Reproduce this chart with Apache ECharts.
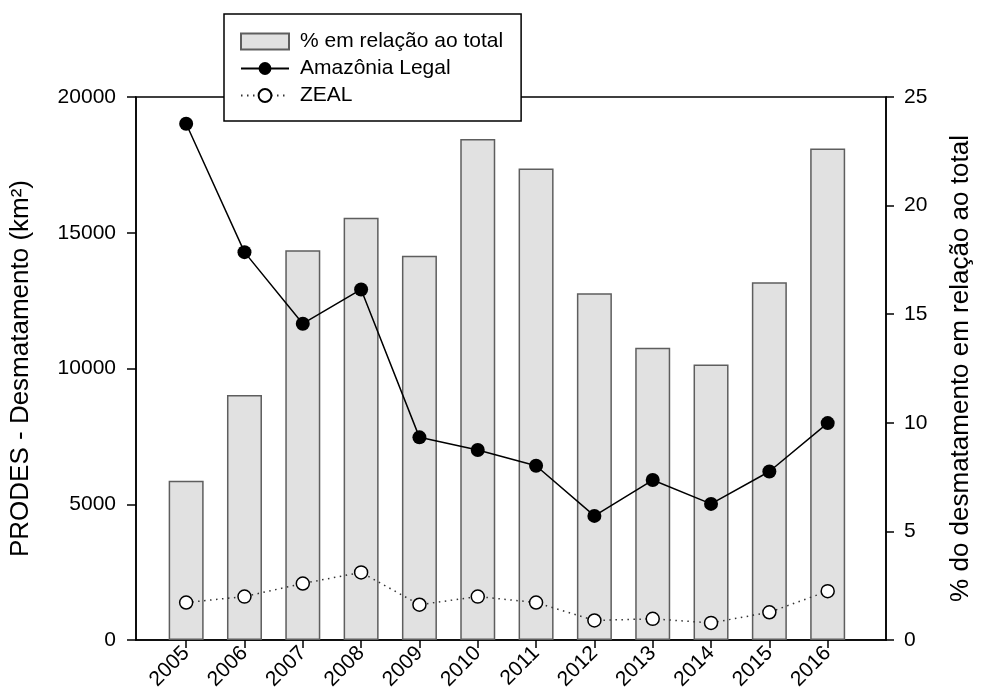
<!DOCTYPE html>
<html><head><meta charset="utf-8">
<script src="https://cdn.jsdelivr.net/npm/echarts@6/dist/echarts.min.js"></script>
<style>html,body{margin:0;padding:0;background:#fff}#c{width:982px;height:700px}</style>
</head><body><div id="c"></div>
<script>
// ---- data ----
const years = [2005, 2006, 2007, 2008, 2009, 2010, 2011, 2012, 2013, 2014, 2015, 2016];
const amazoniaLegal = [19014, 14286, 11651, 12911, 7464, 7000, 6418, 4571, 5891, 5012, 6207, 7989];
const zeal = [1380, 1600, 2080, 2490, 1300, 1600, 1380, 720, 780, 630, 1020, 1800];
const pctTotal = [7.33, 11.28, 17.95, 19.44, 17.69, 23.07, 21.71, 15.96, 13.46, 12.68, 16.47, 22.63];
const leftTickLabels = [0, 5000, 10000, 15000, 20000];
const rightTickLabels = [0, 5, 10, 15, 20, 25];
const seriesNames = ['% em relação ao total', 'Amazônia Legal', 'ZEAL'];
const leftTitle = 'PRODES - Desmatamento (km²)';
const rightTitle = '% do desmatamento em relação ao total';

const FONT = '"Liberation Sans", Arial, sans-serif';
const pairs = (vals) => years.map((y, i) => [y, vals[i]]);

const chart = echarts.init(document.getElementById('c'), null, {renderer: 'canvas'});
chart.setOption({
  animation: false,
  backgroundColor: '#fff',
  textStyle: {fontFamily: FONT, color: '#000'},
  grid: {left: 135, right: 91, top: 97, bottom: 60, show: true, borderColor: '#000', borderWidth: 1.5, backgroundColor: 'transparent'},
  legend: {
    orient: 'vertical', left: 224, top: 14,
    backgroundColor: '#fff', borderColor: '#000', borderWidth: 1.5,
    padding: [17, 18, 15, 16],
    itemWidth: 48, itemHeight: 16, itemGap: 6,
    textStyle: {fontSize: 21, lineHeight: 21, color: '#000', fontFamily: FONT, padding: [0, 0, 0, 6]},
    data: [
      {name: seriesNames[0], icon: 'rect'},
      {name: seriesNames[1]},
      {name: seriesNames[2]}
    ]
  },
  xAxis: {
    type: 'value', min: 2004.14, max: 2017,
    axisLine: {show: true, lineStyle: {color: '#000', width: 1.5}},
    axisTick: {show: true, customValues: years, length: 8, lineStyle: {color: '#000', width: 1.5}},
    axisLabel: {customValues: years, rotate: 45, fontSize: 21, margin: 10, color: '#000', formatter: v => String(v)},
    splitLine: {show: false}
  },
  yAxis: [
    {
      type: 'value', min: 0, max: 20000, interval: 5000, position: 'left',
      name: leftTitle, nameLocation: 'middle', nameGap: 102,
      nameTextStyle: {fontSize: 26, color: '#000', fontFamily: FONT},
      axisLine: {show: true, lineStyle: {color: '#000', width: 1.5}},
      axisTick: {show: true, length: 9, lineStyle: {color: '#000', width: 1.5}},
      axisLabel: {fontSize: 21, margin: 20, color: '#000', formatter: v => leftTickLabels.includes(v) ? String(v) : ''},
      splitLine: {show: false}
    },
    {
      type: 'value', min: 0, max: 25, interval: 5, position: 'right',
      name: rightTitle, nameLocation: 'middle', nameGap: 62,
      nameTextStyle: {fontSize: 26, color: '#000', fontFamily: FONT},
      axisLine: {show: true, lineStyle: {color: '#000', width: 1.5}},
      axisTick: {show: true, length: 8, lineStyle: {color: '#000', width: 1.5}},
      axisLabel: {fontSize: 21, margin: 18, color: '#000', formatter: v => rightTickLabels.includes(v) ? String(v) : ''},
      splitLine: {show: false}
    }
  ],
  series: [
    {
      name: seriesNames[0], type: 'bar', xAxisIndex: 0, yAxisIndex: 1,
      data: pairs(pctTotal), barWidth: 35, z: 1,
      itemStyle: {color: '#e1e1e1', borderColor: '#5e5e5e', borderWidth: 1.5}
    },
    {
      name: seriesNames[1], type: 'line', xAxisIndex: 0, yAxisIndex: 0,
      data: pairs(amazoniaLegal), symbol: 'circle', symbolSize: 14, z: 5,
      itemStyle: {color: '#000'},
      lineStyle: {color: '#000', width: 1.5}
    },
    {
      name: seriesNames[2], type: 'line', xAxisIndex: 0, yAxisIndex: 0,
      data: pairs(zeal), symbol: 'circle', symbolSize: 13, z: 4,
      itemStyle: {color: '#fff', borderColor: '#000', borderWidth: 1.5},
      lineStyle: {color: '#333', width: 1.5, type: [1.5, 4.5]}
    }
  ]
});
</script>
</body></html>
